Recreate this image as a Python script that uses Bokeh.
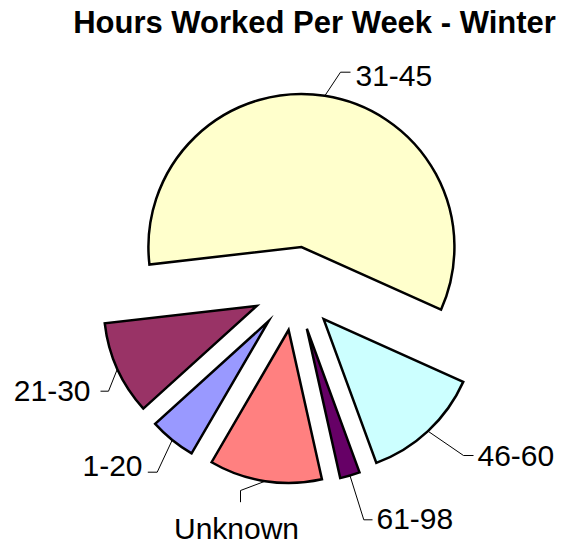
import numpy as np
from bokeh.plotting import figure
from bokeh.models import Range1d, ColumnDataSource
from bokeh.core.properties import value
from bokeh.embed import file_html
from bokeh.resources import INLINE

# ---- data ----
categories = ["1-20", "21-30", "31-45", "46-60", "61-98", "Unknown"]
shares = [4.9, 9.9, 58.6, 12.7, 2.1, 11.9]
colors = ["#9999FF", "#993366", "#FFFFCC", "#CCFFFF", "#660066", "#FF8080"]
title_text = "Hours Worked Per Week - Winter"

# ---- layout ----
W, H = 571, 546
cx, cy = 294.5, 258.0      # pie centre (data units = pixels)
R = 153.0                  # radius
EXPLODE = 42.0             # explosion distance
start_deg = -120.2         # start of first slice, going clockwise

# label layout: (elbow_x, elbow_y, end_x, end_y, text_x, text_y, align)
label_layout = {
    "31-45":   (340, 474.3, 350, 474.3, 355, 471, "left"),
    "46-60":   (463, 91, 473, 91, 477, 91, "left"),
    "61-98":   (363.3, 26.7, 372, 26.7, 376, 28, "left"),
    "Unknown": (240, 56, 240, 44.3, 236, 18, "center"),
    "1-20":    (156.7, 74.3, 147.3, 74.3, 142, 81, "right"),
    "21-30":   (108, 155.3, 100, 155.3, 90, 156, "right"),
}

vals = np.array(shares, dtype=float)
fr = vals / vals.sum()
span = fr * 2 * np.pi
cum = np.concatenate([[0], np.cumsum(span)[:-1]])
s0 = np.deg2rad(start_deg)
upper = s0 - cum
lower = upper - span
mid = (upper + lower) / 2
xs = cx + EXPLODE * np.cos(mid)
ys = cy + EXPLODE * np.sin(mid)

p = figure(width=W, height=H, x_range=Range1d(0, W), y_range=Range1d(0, H),
           output_backend="svg", toolbar_location=None, min_border=0)
p.axis.visible = False
p.grid.visible = False
p.outline_line_color = None
p.background_fill_color = "white"
p.border_fill_color = "white"

src = ColumnDataSource(dict(x=xs, y=ys, a1=lower, a2=upper, color=colors))
p.wedge(x="x", y="y", radius=R, start_angle="a1", end_angle="a2",
        direction="anticlock", fill_color="color", line_color="black",
        line_width=2.5, line_join="miter", source=src)

# leader lines and labels
for i, cat in enumerate(categories):
    ex, ey, tx2, ty2, lx, ly, al = label_layout[cat]
    ax = xs[i] + R * np.cos(mid[i])
    ay = ys[i] + R * np.sin(mid[i])
    p.line([ax, ex, tx2], [ay, ey, ty2], line_color="black", line_width=1)
    p.text([lx], [ly], text=[cat], text_align=al, text_baseline="middle",
           text_font=value("Liberation Sans"), text_font_size="30px",
           text_color="black")

p.text([314], [524], text=[title_text], text_align="center", text_baseline="middle",
       text_font=value("Liberation Sans"), text_font_size="31px",
       text_font_style="bold", text_color="black")

open("out.html", "w").write(file_html(p, INLINE))
